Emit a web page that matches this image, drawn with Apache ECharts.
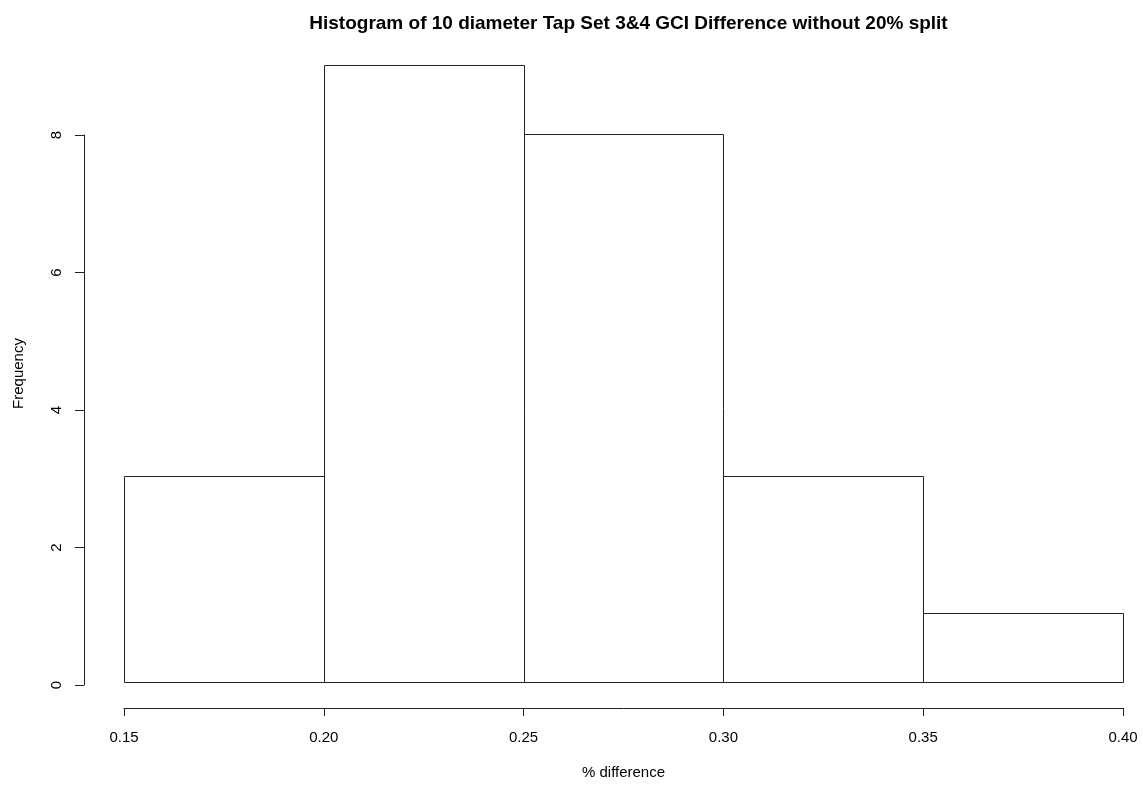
<!DOCTYPE html>
<html>
<head>
<meta charset="utf-8">
<script src="https://cdn.jsdelivr.net/npm/echarts@6/dist/echarts.min.js"></script>
<style>
  html, body { margin: 0; padding: 0; background: #fff; }
  #chart { width: 1143px; height: 785px; }
</style>
</head>
<body>
<div id="chart"></div>
<script>
// Histogram bins: break points and counts per bin
const breaks = [0.15, 0.20, 0.25, 0.30, 0.35, 0.40];
const counts = [3, 9, 8, 3, 1];
const xTicks = [0.15, 0.20, 0.25, 0.30, 0.35, 0.40];
const yTicks = [0, 2, 4, 6, 8];

const titleText = 'Histogram of 10 diameter Tap Set 3&4 GCI Difference without 20% split';
const xName = '% difference';
const yName = 'Frequency';

const binData = counts.map((c, i) => [breaks[i], breaks[i + 1], c]);

const font = 'Liberation Sans, Arial, Helvetica, sans-serif';
const ink = '#000';
const lineInk = '#222';

const chart = echarts.init(document.getElementById('chart'), null, { renderer: 'canvas' });

chart.setOption({
  animation: false,
  backgroundColor: '#fff',
  title: {
    text: titleText,
    left: 623.5,
    textAlign: 'center',
    top: 9,
    textStyle: { fontFamily: font, fontSize: 19, fontWeight: 'bold', color: ink }
  },
  grid: [
    // plotting region for the bars
    { left: 124, right: 20, top: 65, bottom: 100 },
    // region carrying the visible y-axis (0..max tick)
    { left: 124, right: 20, top: 135, bottom: 100 }
  ],
  xAxis: [
    {
      gridIndex: 0,
      type: 'value',
      min: xTicks[0],
      max: xTicks[xTicks.length - 1],
      interval: 0.05,
      offset: 26,
      name: xName,
      nameLocation: 'middle',
      nameGap: 57,
      nameTextStyle: { fontFamily: font, fontSize: 15, color: ink },
      axisLine: { show: true, onZero: false, lineStyle: { color: lineInk, width: 1 } },
      axisTick: { show: true, length: 8, lineStyle: { color: lineInk } },
      axisLabel: {
        fontFamily: font, fontSize: 15, color: ink, margin: 22,
        formatter: v => v.toFixed(2)
      },
      splitLine: { show: false }
    },
    { gridIndex: 1, type: 'value', min: 0, max: 1, show: false }
  ],
  yAxis: [
    {
      gridIndex: 0,
      type: 'value',
      min: 0,
      max: 9,
      name: yName,
      nameLocation: 'middle',
      nameGap: 98,
      nameRotate: 90,
      nameTextStyle: { fontFamily: font, fontSize: 15, color: ink },
      axisLine: { show: false, onZero: false },
      axisTick: { show: false },
      axisLabel: { show: false },
      splitLine: { show: false }
    },
    {
      gridIndex: 1,
      type: 'value',
      min: yTicks[0],
      max: yTicks[yTicks.length - 1],
      interval: 2,
      offset: 40,
      axisLine: { show: true, onZero: false, lineStyle: { color: lineInk, width: 1 } },
      axisTick: { show: true, length: 9, lineStyle: { color: lineInk } },
      axisLabel: {
        fontFamily: font, fontSize: 15, color: ink, rotate: 90, margin: 20
      },
      splitLine: { show: false }
    }
  ],
  series: [
    {
      type: 'custom',
      xAxisIndex: 0,
      yAxisIndex: 0,
      data: binData,
      encode: { x: [0, 1], y: 2 },
      renderItem: function (params, api) {
        const p0 = api.coord([api.value(0), 0]);
        const p1 = api.coord([api.value(1), api.value(2)]);
        return {
          type: 'rect',
          shape: {
            x: Math.round(p0[0]) + 0.5,
            y: Math.round(p1[1]) + 0.5,
            width: Math.round(p1[0]) - Math.round(p0[0]),
            height: Math.round(p0[1]) - Math.round(p1[1])
          },
          style: { fill: '#fff', stroke: lineInk, lineWidth: 1 }
        };
      }
    }
  ]
});
</script>
</body>
</html>
